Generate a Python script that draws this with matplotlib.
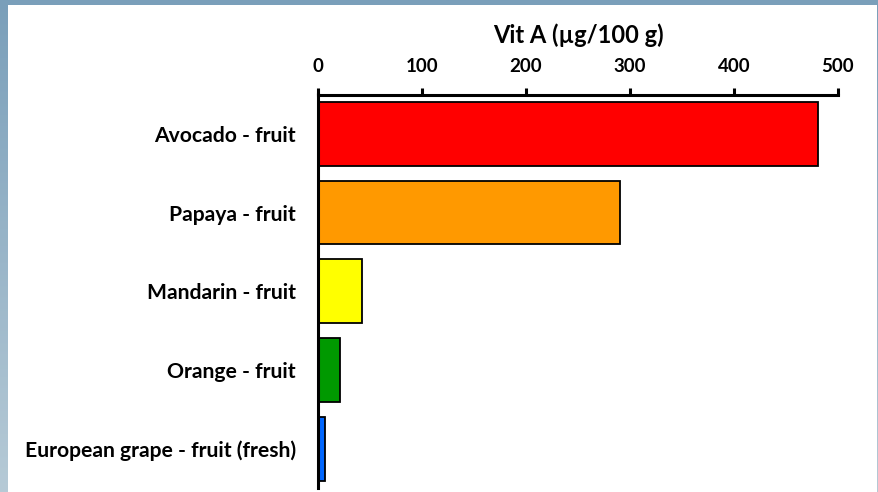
import matplotlib.pyplot as plt
from matplotlib.patches import Rectangle
import numpy as np

foods = ["Avocado - fruit", "Papaya - fruit", "Mandarin - fruit",
         "Orange - fruit", "European grape - fruit (fresh)"]
vit_a = [481, 290, 42, 21, 7]
colors = ["#ff0000", "#ff9900", "#ffff00", "#009900", "#0066ff"]
xticks = [0, 100, 200, 300, 400, 500]

plt.rcParams['font.family'] = ['Lato', 'DejaVu Sans']
plt.rcParams['font.weight'] = 'bold'

fig = plt.figure(figsize=(8.79, 4.92), dpi=100)

# blue-grey frame with a soft vertical gradient
bg = fig.add_axes([0, 0, 1, 1])
grad = np.linspace(0, 1, 256).reshape(-1, 1)
top_c = np.array([0x7a, 0x9f, 0xba]) / 255
bot_c = np.array([0xb6, 0xca, 0xd6]) / 255
img = top_c + grad[:, :, None] * (bot_c - top_c)
bg.imshow(img, aspect='auto', extent=[0, 1, 0, 1])
bg.set_xlim(0, 1)
bg.set_ylim(0, 1)
bg.axis('off')
bg.add_patch(Rectangle((8/879, 0), (877-8)/879, (492-5)/492,
                       facecolor='white', edgecolor='none'))

ax = fig.add_axes([318/879, 4/492, 520/879, 393.5/492])
ax.set_facecolor('none')
ypos = np.arange(len(foods))
ax.barh(ypos, vit_a, height=0.81, color=colors, edgecolor='black', linewidth=1.3)
ax.set_ylim(len(foods) - 0.5, -0.5)
ax.set_xlim(0, 500)

ax.xaxis.tick_top()
ax.xaxis.set_label_position('top')
ax.set_xticks(xticks)
ax.set_xticklabels([str(t) for t in xticks], fontsize=13.5, fontweight='bold')
ax.set_xlabel("Vit A (µg/100 g)", fontsize=17, fontweight='bold', labelpad=11)
ax.tick_params(axis='x', direction='out', length=5, width=2.2, pad=9)

ax.set_yticks(ypos)
ax.set_yticklabels(foods, fontsize=15.2, fontweight='bold')
ax.tick_params(axis='y', length=0, pad=16)

for s in ['right', 'bottom']:
    ax.spines[s].set_visible(False)
ax.spines['top'].set_linewidth(2.2)
ax.spines['left'].set_linewidth(2.2)

fig.savefig("out.png", dpi=100)
